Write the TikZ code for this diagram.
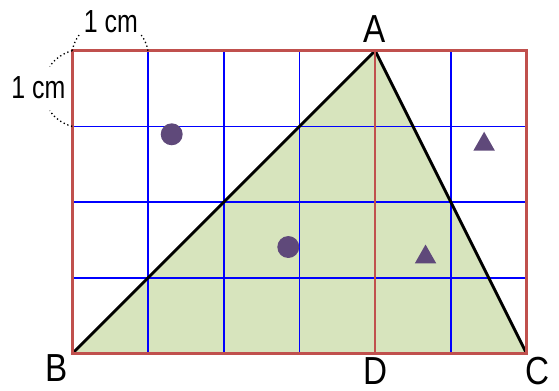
\documentclass[tikz,border=0pt]{standalone}
\usepackage{fontspec}
\setmainfont{Liberation Sans}
\newfontfamily\ptfont{Liberation Sans}[FakeStretch=0.85]
\newfontfamily\cmfont{Liberation Sans}[FakeStretch=0.78]
\definecolor{gridred}{HTML}{C0504D}
\definecolor{fillgreen}{HTML}{D7E4BD}
\definecolor{markpurple}{HTML}{5F497A}
\tikzset{
    ptlabel/.style={font=\ptfont\fontsize{14.7}{16}\selectfont, inner sep=0pt},
    cmlabel/.style={font=\cmfont\fontsize{12}{14}\selectfont, inner sep=0pt},
    unitarc/.style={densely dotted, line width=0.5pt},
}
\begin{document}
\begin{tikzpicture}
    \useasboundingbox (-0.955,-0.482) rectangle (6.429,4.670);
    \coordinate (B) at (0,0);
    \coordinate (C) at (6,0);
    \coordinate (A) at (4,4);
    \coordinate (D) at (4,0);
    % Triangle
    \fill[fillgreen] (A) -- (B) -- (C) -- cycle;
    % Quadrillage
    \foreach \x in {1,2,3,5}{
        \draw[blue, line width=0.6pt] (\x,0) -- (\x,4);
    }
    \foreach \y in {1,2,3}{
        \draw[blue, line width=0.6pt] (0,\y) -- (6,\y);
    }
    \draw[line width=1.1pt, line join=round] (A) -- (B) -- (C) -- cycle;
    \draw[gridred, line width=1pt] (B) rectangle (6,4);
    \draw[gridred, line width=1pt] (A) -- (D);
    % Points
    \node[ptlabel] (labA) at (3.99,4.287) {A};
    \node[ptlabel] (labB) at (-0.206,-0.198) {B};
    \node[ptlabel] (labC) at (6.14,-0.235) {C};
    \node[ptlabel] (labD) at (4.01,-0.225) {D};
    % Unite
    \draw[unitarc] (0,4) arc[start angle=169.5, end angle=144, radius=0.509];
    \draw[unitarc] (1,4) arc[start angle=10.5, end angle=36, radius=0.509];
    \node[cmlabel] (cmtop) at (0.51,4.383) {1 cm};
    \draw[unitarc] (0,4) arc[start angle=104.3, end angle=145.6, radius=0.516];
    \draw[unitarc] (0,3) arc[start angle=255.7, end angle=214.4, radius=0.516];
    \node[cmlabel] (cmleft) at (-0.449,3.518) {1 cm};
    % Marques
    \foreach \x/\y in {1.313/2.896, 2.853/1.407}{
        \fill[markpurple] (\x,\y) circle (0.145);
    }
    \foreach \x/\y in {5.44/2.68, 4.666/1.19}{
        \fill[markpurple] (\x-0.142,\y) -- (\x+0.142,\y) -- (\x,\y+0.25) -- cycle;
    }
\end{tikzpicture}
\end{document}
